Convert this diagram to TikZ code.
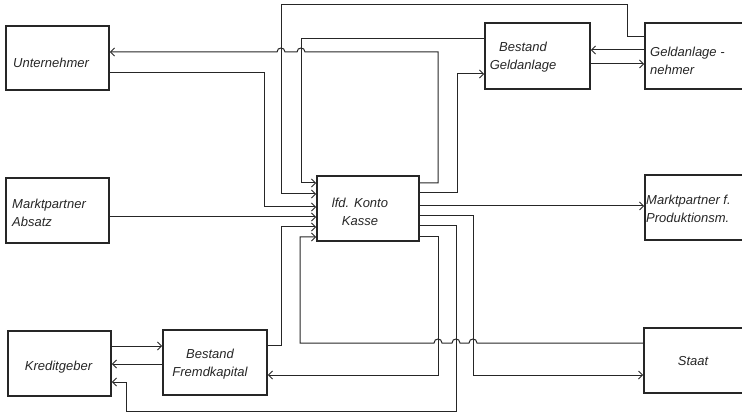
\documentclass[tikz,border=0pt]{standalone}
\usepackage{fontspec}
\setmainfont{Liberation Sans}
\usetikzlibrary{arrows.meta}
\tikzset{
  box/.style={draw=black!85, line width=1.6pt, rectangle, inner sep=0pt},
  lbl/.style={font=\itshape\fontsize{13}{18}\selectfont, text=black!85, inner sep=0pt},
  conn/.style={draw=black!85, line width=1pt, -{Straight Barb[length=4pt,width=8pt]}},
}
\begin{document}
\begin{tikzpicture}[x=1pt,y=-1pt]
\useasboundingbox (0,0) rectangle (742,414);
\clip (0,0) rectangle (742,414);
% boxes
\node[box, minimum width=103pt, minimum height=64pt] (unt) at (57.5,58) {};
\node[box, minimum width=103pt, minimum height=65pt] (mab) at (57.5,210.5) {};
\node[box, minimum width=103pt, minimum height=65pt] (kre) at (59.5,363.5) {};
\node[box, minimum width=104pt, minimum height=65pt] (bfk) at (215,362.5) {};
\node[box, minimum width=102pt, minimum height=65pt] (kas) at (368,208.5) {};
\node[box, minimum width=105pt, minimum height=66pt] (bga) at (537.5,56) {};
\node[box, minimum width=115pt, minimum height=66pt] (gan) at (702.5,56) {};
\node[box, minimum width=115pt, minimum height=65pt] (mpp) at (702.5,207.5) {};
\node[box, minimum width=116pt, minimum height=65pt] (sta) at (702,360.5) {};
% labels
\node[lbl, anchor=west] (unt-l) at (13,63) {Unternehmer};
\node[lbl, anchor=west, align=left] (mab-l) at (12,213) {Marktpartner\\Absatz};
\node[lbl] (kre-l) at (58.5,367) {Kreditgeber};
\node[lbl, align=center] (bfk-l) at (210,364) {Bestand\\Fremdkapital};
\node[lbl, align=center] (kas-l) at (360,211.5) {lfd. Konto\\Kasse};
\node[lbl, align=center] (bga-l) at (523,57) {Bestand\\Geldanlage};
\node[lbl, anchor=west, align=left] (gan-l) at (650,61) {Geldanlage -\\nehmer};
\node[lbl, anchor=west, align=left] (mpp-l) at (646,209) {Marktpartner f.\\Produktionsm.};
\node[lbl] (sta-l) at (693,361) {Staat};
% connectors
\draw[conn] (unt.east |- 0,73) -- (264,73) -- (264,207) -- (kas.west |- 0,207);
\draw[conn] (gan.west |- 0,37) -- (627,37) -- (627,5) -- (281,5) -- (281,194) -- (kas.west |- 0,194);
\draw[conn] (bga.west |- 0,39) -- (301,39) -- (301,183) -- (kas.west |- 0,183);
\draw[conn] (kas.east |- 0,183) -- (438,183) -- (438,52) -- (305,52)
  .. controls (305,46.7) and (297,46.7) .. (297,52) -- (285,52)
  .. controls (285,46.7) and (277,46.7) .. (277,52) -- (unt.east |- 0,52);
\draw[conn] (kas.east |- 0,193) -- (457,193) -- (457,74) -- (bga.west |- 0,74);
\draw[conn] (bga.east |- 0,64) -- (gan.west |- 0,64);
\draw[conn] (gan.west |- 0,50) -- (bga.east |- 0,50);
\draw[conn] (kas.east |- 0,206) -- (mpp.west |- 0,206);
\draw[conn] (mab.east |- 0,217) -- (kas.west |- 0,217);
\draw[conn] (kre.east |- 0,346) -- (bfk.west |- 0,346);
\draw[conn] (bfk.west |- 0,364) -- (kre.east |- 0,364);
\draw[conn] (bfk.east |- 0,345) -- (281,345) -- (281,227) -- (kas.west |- 0,227);
\draw[conn] (sta.west |- 0,343) -- (477,343)
  .. controls (477,337.7) and (469,337.7) .. (469,343) -- (460,343)
  .. controls (460,337.7) and (452,337.7) .. (452,343) -- (442,343)
  .. controls (442,337.7) and (434,337.7) .. (434,343) -- (300,343) -- (300,237) -- (kas.west |- 0,237);
\draw[conn] (kas.east |- 0,216) -- (473,216) -- (473,375) -- (sta.west |- 0,375);
\draw[conn] (kas.east |- 0,226) -- (456,226) -- (456,411) -- (126,411) -- (126,382) -- (kre.east |- 0,382);
\draw[conn] (kas.east |- 0,237) -- (438,237) -- (438,375) -- (bfk.east |- 0,375);
\end{tikzpicture}
\end{document}
